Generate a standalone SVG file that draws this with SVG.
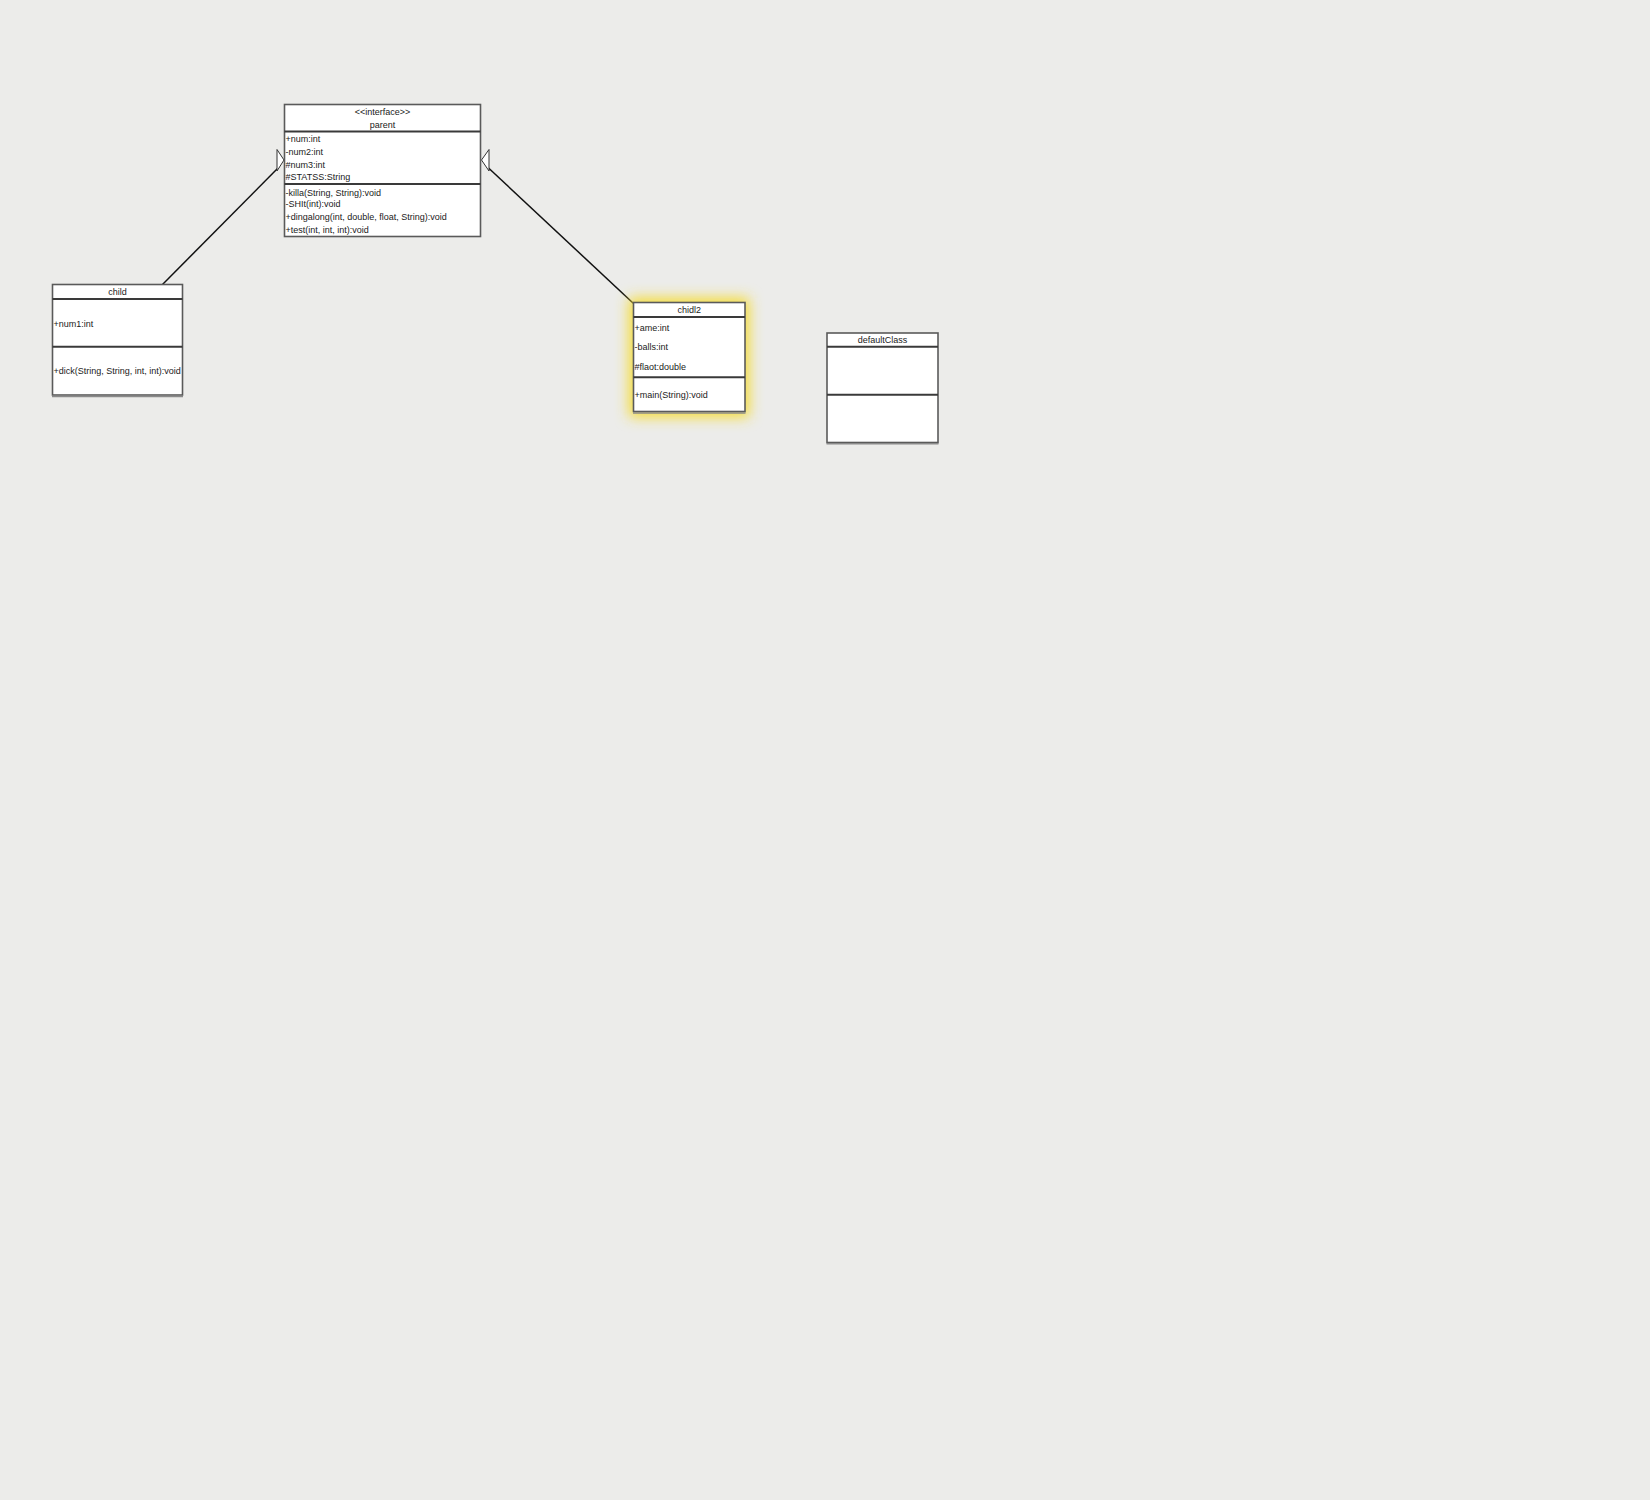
<svg xmlns="http://www.w3.org/2000/svg" width="1650" height="1500" viewBox="0 0 1650 1500">
  <defs>
    <style>
      .box { fill: #ffffff; stroke: #5a5a5a; stroke-width: 1.6; }
      .sep { stroke: #3a3a3a; stroke-width: 2; }
      .base { stroke: #8a8a8a; stroke-width: 1.4; }
      .t { font-family: "Liberation Sans", Arial, sans-serif; font-size: 9px; fill: #1a1a1a; }
      .c { text-anchor: middle; }
      .edge { stroke: #111111; stroke-width: 1.5; fill: none; }
      .head { fill: #ffffff; stroke: #333333; stroke-width: 1; }
    </style>
    <filter id="glow" x="-50%" y="-50%" width="200%" height="200%">
      <feGaussianBlur stdDeviation="7"/>
    </filter>
  </defs>

  <rect x="0" y="0" width="1650" height="1500" fill="#ececea"/>

  <!-- generalization connectors -->
  <g id="connectors">
    <line class="edge" x1="162.5" y1="284.5" x2="279" y2="167"/>
    <polygon class="head" points="277,149.5 284,160 277,171"/>
    <line class="edge" x1="633.5" y1="303.5" x2="488" y2="167.5"/>
    <polygon class="head" points="489,149.5 481.5,160 489,171"/>
  </g>

  <!-- interface parent -->
  <g id="parent">
    <rect class="box" x="284.5" y="104.5" width="196" height="132"/>
    <line class="sep" x1="284.5" y1="131.5" x2="480.5" y2="131.5"/>
    <line class="sep" x1="284.5" y1="184" x2="480.5" y2="184"/>
    <text class="t c" x="382.5" y="115">&lt;&lt;interface&gt;&gt;</text>
    <text class="t c" x="382.5" y="128.2">parent</text>
    <text class="t" x="285.5" y="142">+num:int</text>
    <text class="t" x="285.5" y="155">-num2:int</text>
    <text class="t" x="285.5" y="168.3">#num3:int</text>
    <text class="t" x="285.5" y="180">#STATSS:String</text>
    <text class="t" x="285.5" y="195.6">-killa(String, String):void</text>
    <text class="t" x="285.5" y="207">-SHIt(int):void</text>
    <text class="t" x="285.5" y="220.3">+dingalong(int, double, float, String):void</text>
    <text class="t" x="285.5" y="233.3">+test(int, int, int):void</text>
  </g>

  <!-- class child -->
  <g id="child">
    <rect class="box" x="52.5" y="284.5" width="130" height="110.5"/>
    <line class="sep" x1="52.5" y1="299" x2="182.5" y2="299"/>
    <line class="sep" x1="52.5" y1="346.7" x2="182.5" y2="346.7"/>
    <line class="base" x1="52" y1="396.5" x2="183" y2="396.5"/>
    <text class="t c" x="117.5" y="295">child</text>
    <text class="t" x="53.5" y="326.6">+num1:int</text>
    <text class="t" x="53.5" y="374.3">+dick(String, String, int, int):void</text>
  </g>

  <!-- class chidl2 (selected, with highlight halo) -->
  <g id="chidl2">
    <rect x="629" y="298" width="120" height="119" fill="#f5dc30" filter="url(#glow)"/>
    <rect class="box" x="633.5" y="302.5" width="111.5" height="109"/>
    <line class="sep" x1="633.5" y1="317" x2="745" y2="317"/>
    <line class="sep" x1="633.5" y1="377.3" x2="745" y2="377.3"/>
    <line class="base" x1="633" y1="413" x2="745.5" y2="413"/>
    <text class="t c" x="689.3" y="312.6">chidl2</text>
    <text class="t" x="634.5" y="331">+ame:int</text>
    <text class="t" x="634.5" y="350.3">-balls:int</text>
    <text class="t" x="634.5" y="370">#flaot:double</text>
    <text class="t" x="634.5" y="397.6">+main(String):void</text>
  </g>

  <!-- class defaultClass -->
  <g id="defaultClass">
    <rect class="box" x="827" y="333" width="111" height="109.5"/>
    <line class="sep" x1="827" y1="346.7" x2="938" y2="346.7"/>
    <line class="sep" x1="827" y1="394.7" x2="938" y2="394.7"/>
    <line class="base" x1="826.5" y1="443.8" x2="938.5" y2="443.8"/>
    <text class="t c" x="882.5" y="343.3">defaultClass</text>
  </g>
</svg>
